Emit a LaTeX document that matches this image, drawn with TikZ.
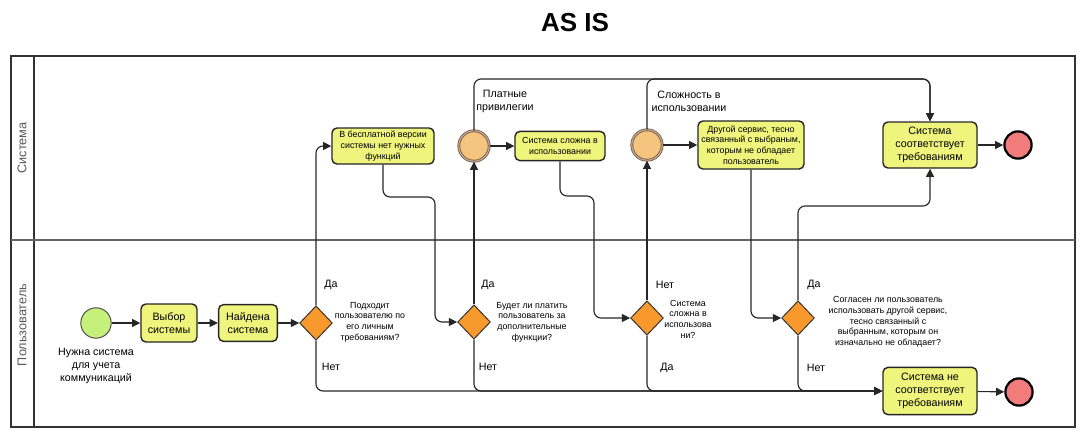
\documentclass[tikz,border=0pt]{standalone}
\usepackage{fontspec}
\setmainfont{Liberation Sans}
\usetikzlibrary{arrows.meta, positioning, shapes.geometric}
\usepackage{xcolor}
\definecolor{taskfill}{HTML}{EEF47C}
\definecolor{gatefill}{HTML}{F7992C}
\definecolor{startfill}{HTML}{C5F07A}
\definecolor{endfill}{HTML}{F27C7C}
\definecolor{interfill}{HTML}{F5C47E}
\def\bigfont{\fontsize{7.6}{9.2}\selectfont}
\def\tinyfont{\fontsize{6.3}{7.6}\selectfont}

\begin{document}
\begin{tikzpicture}[x=0.025cm, y=-0.025cm, >={Triangle[length=5.8pt,width=5.6pt]}]
    \tikzstyle{flow}=[->, draw=black!85, line width=0.8pt, rounded corners=5pt]
    \tikzstyle{task}=[draw=black!85, line width=1pt, fill=taskfill, rounded corners=3.5pt, align=center, inner sep=1pt, font=\bigfont]
    \tikzstyle{gate}=[diamond, draw=black!80, line width=0.7pt, fill=gatefill, minimum width=0.82cm, minimum height=0.86cm, inner sep=0pt]
    \tikzstyle{startev}=[circle, draw=black!70, line width=0.7pt, fill=startfill, minimum size=0.76cm, inner sep=0pt]
    \tikzstyle{endev}=[circle, draw=black, line width=1.6pt, fill=endfill, minimum size=0.68cm, inner sep=0pt]
    \tikzstyle{interev}=[circle, draw=brown!70!black, double=black!30, double distance=0.8pt, line width=0.6pt, fill=interfill, minimum size=0.76cm, inner sep=0pt]
    \tikzstyle{note}=[align=center, font=\tinyfont, inner sep=0pt]
    \tikzstyle{lbl}=[align=center, font=\bigfont, inner sep=0pt]

    \useasboundingbox (0,0) rectangle (1086,437);

    \node[font=\bfseries\fontsize{18.5}{22}\selectfont] (title) at (575,23) {AS IS};

    % pool and lanes
    \draw[black!80, line width=0.9pt] (11,56) rectangle (1075,427);
    \draw[black!80, line width=0.9pt] (34,56) -- (34,427);
    \draw[black!60, line width=1.2pt] (11,240) -- (1075,240);
    \node[rotate=90, text=black!65, font=\fontsize{9}{11}\selectfont] (lane-sys) at (22,148) {Система};
    \node[rotate=90, text=black!65, font=\fontsize{9}{11}\selectfont] (lane-usr) at (22,325) {Пользователь};

    % user lane
    \node[startev] (S) at (96,323) {};
    \node[lbl, anchor=north] (S-t) at (96,348) {Нужна система\\для учета\\коммуникаций};
    \node[task, minimum width=1.4cm, minimum height=0.95cm] (T1) at (169,323) {Выбор\\системы};
    \node[task, minimum width=1.47cm, minimum height=0.92cm] (T2) at (248,323) {Найдена\\система};

    \node[gate] (G1) at (316,323) {};
    \node[gate] (G2) at (474,322) {};
    \node[gate] (G3) at (647,318) {};
    \node[gate] (G4) at (798,318) {};

    \node[note] (Q1) at (370,322) {Подходит\\пользователю по\\его личным\\требованиям?};
    \node[note] (Q2) at (532,322) {Будет ли платить\\пользователь за\\дополнительные\\функции?};
    \node[note] (Q3) at (688,319) {Система\\сложна в\\использова\\ни?};
    \node[note] (Q4) at (888,322) {Согласен ли пользователь\\использовать другой сервис,\\тесно связанный с\\выбранным, которым он\\изначально не обладает?};

    \node[lbl] (G1-y) at (331,285) {Да};
    \node[lbl] (G1-n) at (331,367) {Нет};
    \node[lbl] (G2-y) at (488,285) {Да};
    \node[lbl] (G2-n) at (488,367) {Нет};
    \node[lbl] (G3-n) at (665,285) {Нет};
    \node[lbl] (G3-y) at (667,368) {Да};
    \node[lbl] (G4-y) at (814,285) {Да};
    \node[lbl] (G4-n) at (816,368) {Нет};

    \node[task, minimum width=2.35cm, minimum height=1.18cm] (NO) at (930,391) {Система не\\соответствует\\требованиям};
    \node[endev] (F2) at (1019,392) {};

    % system lane
    \node[task, font=\tinyfont, minimum width=2.55cm, minimum height=0.9cm] (U1) at (383,146) {В бесплатной версии\\системы нет нужных\\функций};
    \node[interev] (E1) at (474,146) {};
    \node[task, font=\tinyfont, minimum width=2.25cm, minimum height=0.73cm] (U2) at (560,146) {Система сложна в\\использовании};
    \node[interev] (E2) at (647,145) {};
    \node[task, font=\tinyfont, minimum width=2.65cm, minimum height=1.2cm] (U3) at (751,145) {Другой сервис, тесно\\связанный с выбраным,\\которым не обладает\\пользователь};
    \node[task, minimum width=2.35cm, minimum height=1.15cm] (OK) at (930,145) {Система\\соответствует\\требованиям};
    \node[endev] (F1) at (1018,145) {};

    \node[lbl] (E1-t) at (505,101) {Платные\\привилегии};
    \node[lbl] (E2-t) at (689,101) {Сложность в\\использовании};

    \coordinate (top) at (930,79);
    \coordinate (back) at (930,206);

    % connectors
    \draw[flow] (S) -- (T1);
    \draw[flow] (T1) -- (T2);
    \draw[flow] (T2) -- (G1);
    \draw[flow] (G1.north) |- (U1.west);
    \draw[flow] (U1.south) |- (435,197) |- (G2.west);
    \draw[flow] (G2.north) -- (E1.south);
    \draw[flow] (E1) -- (U2);
    \draw[flow] (U2.south) |- (594,196) |- (G3.west);
    \draw[flow] (G3.north) -- (E2.south);
    \draw[flow] (E2) -- (U3);
    \draw[flow] (U3.south) |- (G4.west);
    \draw[flow] (G4.north) |- (back) -- (OK.south);
    \draw[flow] (E1.north) |- (top) -- (OK.north);
    \draw[flow] (E2.north) |- (top) -- (OK.north);
    \draw[flow] (OK) -- (F1);
    \foreach \g in {G1,G2,G3,G4}{
        \draw[flow] (\g.south) |- (NO.west);
        }
    \draw[flow] (NO) -- (F2);
\end{tikzpicture}
\end{document}
